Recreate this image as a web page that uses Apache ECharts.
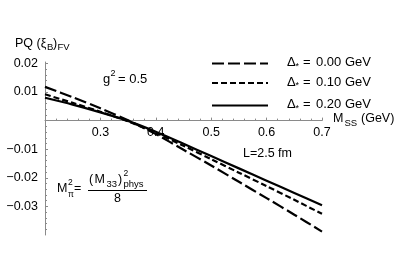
<!DOCTYPE html>
<html><head><meta charset="utf-8">
<script src="https://cdn.jsdelivr.net/npm/echarts@6/dist/echarts.min.js"></script>
<style>html,body{margin:0;padding:0;background:#fff}#c{width:407px;height:272px}</style>
</head><body><div id="c"></div>
<script>
// ---- data ----
const xValues   = [0.2, 0.25, 0.3, 0.35, 0.4, 0.45, 0.5, 0.55, 0.6, 0.65, 0.7];
const delta000  = [0.0118, 0.0082, 0.0043, 0.0001, -0.0047, -0.0102, -0.0157, -0.0214, -0.0271, -0.0329, -0.0388];
const delta010  = [0.0092, 0.0062, 0.0031, -0.0003, -0.0043, -0.0088, -0.0135, -0.0182, -0.0229, -0.0277, -0.0326];
const delta020  = [0.0080, 0.0056, 0.0029, -0.0001, -0.0039, -0.0081, -0.0124, -0.0167, -0.0210, -0.0253, -0.0296];
const seriesNames = ['0.00', '0.10', '0.20'];
const xTickLabels = [0.3, 0.4, 0.5, 0.6, 0.7];
const yTickLabels = [0.02, 0.01, -0.01, -0.02, -0.03];
const yTickMarks  = [0.02, 0.01, 0, -0.01, -0.02, -0.03];

const FONT = '"Liberation Sans", Arial, Helvetica, sans-serif';
const fmtNum = (v, d) => (v < 0 ? '\u2212' : '') + Math.abs(v).toFixed(d);
const pair = arr => xValues.map((x, i) => [x, arr[i]]);

const chart = echarts.init(document.getElementById('c'));
const axisCol = '#8a8a8a';
const dashes = [[12, 4], [6, 3], 'solid'];
const dataSets = [delta000, delta010, delta020];
const GRID = { left: 45, right: 85, top: 62, bottom: 37 };

function txt(x, y, s, size, extra) {
  return {
    type: 'text', x: x, y: y, silent: true,
    style: Object.assign({ text: s, fontFamily: FONT, fontSize: size, fill: '#000',
      textAlign: 'left', textVerticalAlign: 'middle' }, extra || {})
  };
}

const graphics = [];
// y-axis title PQ (ξB)FV
graphics.push(txt(15, 44, 'PQ (\u03be', 12.5));
graphics.push(txt(47, 47.5, 'B', 9.5));
graphics.push(txt(53, 44, ')', 12.5));
graphics.push(txt(57.5, 47.5, 'FV', 9.5));
// g^2 = 0.5
graphics.push(txt(103, 79, 'g', 13));
graphics.push(txt(110.5, 73.5, '2', 9));
graphics.push(txt(118, 79, '= 0.5', 13));
// legend
const legY = [63.5, 83, 105.5];
seriesNames.forEach((n, i) => {
  const ls = { stroke: '#000', lineWidth: 2.2 };
  if (dashes[i] !== 'solid') ls.lineDash = dashes[i];
  graphics.push({ type: 'line', silent: true, shape: { x1: 212, y1: legY[i], x2: 268, y2: legY[i] }, style: ls });
  const ty = legY[i] - 1;
  graphics.push(txt(287, ty, '\u0394', 13));
  graphics.push(txt(295.5, ty + 4, '*', 9));
  graphics.push(txt(303, ty, '=', 13));
  graphics.push(txt(316, ty, n, 13));
  graphics.push(txt(345, ty, 'GeV', 13));
});
// x-axis title
graphics.push(txt(333, 119, 'M', 12.5));
graphics.push(txt(344.5, 123, 'SS', 9.5));
graphics.push(txt(361, 119, '(GeV)', 12.5));
// L = 2.5 fm
graphics.push(txt(243, 154, 'L=2.5 fm', 12.5));
// formula M_pi^2 = (M33)^2_phys / 8
graphics.push(txt(57, 189, 'M', 12.5));
graphics.push(txt(68, 183, '2', 8.5));
graphics.push(txt(68, 194.5, '\u03c0', 8.5));
graphics.push(txt(74, 189, '=', 12.5));
graphics.push({ type: 'line', silent: true, shape: { x1: 88, y1: 190.5, x2: 147, y2: 190.5 }, style: { stroke: '#000', lineWidth: 1 } });
graphics.push(txt(89, 180, '(', 12.5));
graphics.push(txt(94.5, 180, 'M', 12.5));
graphics.push(txt(106.5, 184, '33', 9.5));
graphics.push(txt(118, 180, ')', 12.5));
graphics.push(txt(123.5, 174, '2', 8.5));
graphics.push(txt(123.5, 184.5, 'phys', 9.5));
graphics.push(txt(114, 198.5, '8', 12.5));

chart.setOption({
  animation: false,
  backgroundColor: '#fff',
  grid: Object.assign({ containLabel: false, outerBoundsMode: 'none' }, GRID),
  xAxis: {
    type: 'value', min: 0.2, max: 0.7, interval: 0.1, offset: 0,
    axisLine: { onZero: false, lineStyle: { color: axisCol, width: 1 } },
    axisTick: { inside: true, length: 3, lineStyle: { color: axisCol } },
    minorTick: { show: true, splitNumber: 5, length: 2, lineStyle: { color: axisCol } },
    axisLabel: { customValues: xTickLabels, formatter: v => fmtNum(v, 1), color: '#000',
      fontFamily: FONT, fontSize: 12.5, margin: 5 },
    splitLine: { show: false }
  },
  yAxis: {
    type: 'value', min: -0.04, max: 0.0205, interval: 0.01,
    axisLine: { onZero: false, lineStyle: { color: axisCol, width: 1 } },
    axisTick: { inside: true, length: 3, customValues: yTickMarks, lineStyle: { color: axisCol } },
    minorTick: { show: true, splitNumber: 5, length: 2, lineStyle: { color: axisCol } },
    axisLabel: { customValues: yTickLabels, formatter: v => fmtNum(v, 2), color: '#000',
      fontFamily: FONT, fontSize: 12.5, margin: 7 },
    splitLine: { show: false }
  },
  series: dataSets.map((d, i) => ({
    name: seriesNames[i], type: 'line', data: pair(d), showSymbol: false, smooth: 0.3,
    lineStyle: { color: '#000', width: 2.2, type: dashes[i], cap: 'butt' }
  })),
  graphic: graphics
});
// move the x axis (line, ticks, labels) up to y = 0
const zeroPx = chart.convertToPixel({ yAxisIndex: 0 }, 0);
const bottomPx = 272 - GRID.bottom;
chart.setOption({ xAxis: { offset: zeroPx - bottomPx } });
</script></body></html>
